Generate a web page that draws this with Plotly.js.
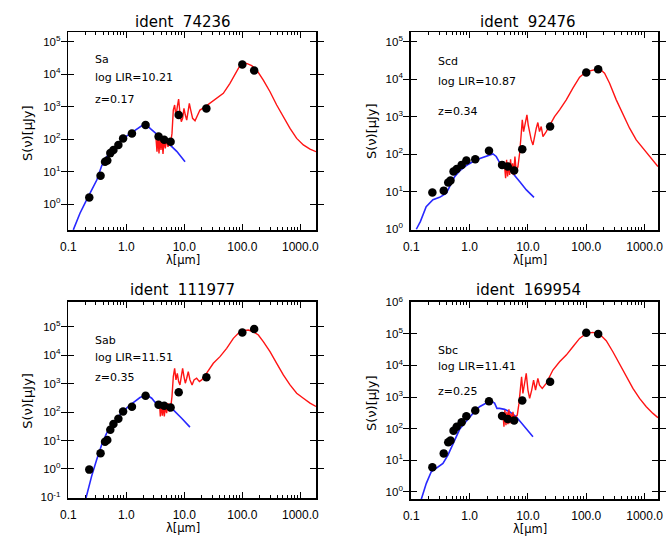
<!DOCTYPE html>
<html><head><meta charset="utf-8">
<script src="https://cdn.plot.ly/plotly-3.0.1.min.js"></script>
<style>html,body{margin:0;padding:0;background:#fff}#chart{width:666px;height:540px}</style>
</head><body><div id="chart"></div>
<script>
// ---- data (wavelength in micron, flux in microJy) ----
const bandLam = [0.23, 0.36, 0.43, 0.47, 0.53, 0.60, 0.73, 0.88, 1.25, 2.15, 3.6, 4.5, 5.8, 8.0, 24, 100, 160];

const p1Flux = [1.6, 7.4, 20, 22, 37, 46, 66, 105, 150, 270, 120, 96, 83, 550, 880, 20000, 13000];
const p2Flux = [9.5, 10.7, 17.6, 19.9, 34.5, 40.6, 52, 68, 73.5, 123, 52, 47, 36.7, 136, 547, 15000, 18500];
const p3Flux = [0.95, 3.6, 9, 10.5, 24, 38, 58, 105, 155, 375, 180, 166, 145, 500, 1680, 63000, 83000];
const p4Flux = [6, 16.4, 37, 42, 85, 115, 160, 245, 375, 730, 250, 200, 180, 780, 3050, 109000, 99000];

const p1StarLam = [0.122, 0.159, 0.213, 0.31, 0.376, 0.46, 0.60, 0.78, 1.01, 1.32, 1.7, 2.1, 2.6, 3.3, 5.0, 7.4, 10.3];
const p1StarFlux = [0.16, 0.52, 1.5, 5.5, 15, 29, 46, 83, 124, 170, 230, 300, 210, 145, 82, 42, 20];
const p2StarLam = [0.122, 0.143, 0.18, 0.235, 0.306, 0.40, 0.454, 0.553, 0.674, 0.877, 1.30, 1.93, 2.51, 2.86, 3.27, 4.25, 5.5, 7.2, 9.4, 12.7];
const p2StarFlux = [1.0, 1.6, 4.0, 6.1, 7.1, 9.1, 13.7, 25, 36, 50, 71, 90, 102, 87, 60, 55, 31, 18.7, 11.2, 7.1];
const p3StarLam = [0.202, 0.252, 0.308, 0.376, 0.458, 0.597, 0.778, 1.01, 1.32, 1.72, 2.24, 2.74, 3.12, 3.8, 4.95, 6.46, 9.0, 12.5];
const p3StarFlux = [0.096, 0.55, 2.1, 7.1, 18.3, 41, 80, 137, 217, 325, 403, 307, 223, 217, 180, 120, 61, 29.6];
const p4StarLam = [0.148, 0.181, 0.22, 0.268, 0.349, 0.425, 0.518, 0.674, 0.877, 1.14, 1.48, 1.93, 2.45, 2.68, 2.94, 3.27, 3.98, 4.85, 6.31, 8.2, 12.2];
const p4StarFlux = [0.57, 1.84, 4.3, 5.5, 7.9, 14.5, 34, 95, 170, 303, 493, 650, 700, 640, 436, 436, 406, 342, 238, 129, 55];

const p1DustLam = [3.25,3.38,3.52,3.66,3.80,3.96,4.12,4.29,4.46,4.70,4.95,5.23,5.51,5.81,6.13,6.46,6.81,7.18,7.57,7.98,8.41,8.87,9.35,9.86,10.4,11.0,11.6,12.2,12.9,13.9,15.3,16.7,18.6,22.1,27.7,36.1,47.0,61.2,74.8,88.8,100,119,145,177,230,300,391,509,664,865,1127,1468,1862];
const p1DustFlux = [105,41,119,36,113,46,105,35,94,52,98,58,83,77,150,786,1120,490,995,1714,620,344,435,885,551,387,698,1261,786,435,369,551,786,949,1261,1798,2564,5210,10090,16980,20500,21500,18240,13400,6590,2880,1120,490,214,105,66,49,41];
const p2DustLam = [3.98,4.14,4.31,4.48,4.66,4.85,5.04,5.25,5.46,5.68,5.98,6.31,6.74,7.20,7.69,8.0,8.43,9.0,9.61,10.1,10.7,11.4,12.2,13.0,13.9,14.8,15.8,16.9,18.1,20.6,23.5,28.6,34.9,45.4,59.0,76.9,100,130,169,206,251,327,425,553,719,936,1218,1694];
const p2DustFlux = [46.9,22.9,70.6,25.4,60,28.1,73.6,31.1,57.5,28.1,86.7,34.5,46.9,106,363,824,402,671,1120,606,363,241,177,328,494,699,402,547,296,402,570,1010,1521,2812,5754,11300,16000,17700,18900,14450,7820,2812,1120,494,241,144.5,86.7,46.9];
const p3DustLam = [3.71,3.86,4.01,4.18,4.35,4.52,4.70,4.95,5.23,5.51,5.81,6.13,6.46,6.81,7.18,7.57,7.98,8.41,8.87,9.35,9.86,10.4,11.0,11.7,12.5,13.6,14.7,16.3,18.2,19.9,21.8,24.3,31.6,41.2,53.7,70.0,85.3,104,127,155,189,230,300,391,509,664,865,1127,1468,1862];
const p3DustFlux = [235,70,206,74,180,70,157,92,206,105,137,352,1770,3467,1352,2313,1181,903,1770,3467,1770,1033,1545,2648,1352,903,1352,1545,1181,1352,1700,2400,5190,8890,17400,39000,58400,72400,76400,66800,51100,29800,13300,5190,2023,903,461,307,206,157];
const p4DustLam = [3.73,3.88,4.03,4.20,4.37,4.54,4.72,4.91,5.11,5.32,5.53,5.83,6.15,6.56,7.02,7.40,7.78,8.20,8.77,9.35,10.0,10.7,11.6,12.5,13.5,14.8,15.8,17.6,20.6,23.5,26.8,34.9,45.4,59.0,76.9,100,130,169,220,286,372,485,631,820,1069,1390,1694];
const p4DustFlux = [303,115,387,129,342,139,406,146,303,165,342,186,238,268,628,1663,4397,1303,2704,5610,1663,905,1663,3443,1663,3890,2393,1875,2704,4620,7150,13100,21300,39200,71900,103700,111600,98800,60800,27200,11600,4397,1875,905,493,303,221];

const panelTitles = ['ident\u00a0\u00a074236', 'ident\u00a0\u00a092476', 'ident\u00a0\u00a0111977', 'ident\u00a0\u00a0169954'];
const galTypes = ['Sa', 'Scd', 'Sab', 'Sbc'];
const lirLabels = ['log LIR=10.21', 'log LIR=10.87', 'log LIR=11.51', 'log LIR=11.41'];
const zLabels = ['z=0.17', 'z=0.34', 'z=0.35', 'z=0.25'];

const xTickVals = [0.1, 1, 10, 100, 1000];
const xTickText = ['0.1', '1.0', '10.0', '100.0', '1000.0'];
const xMinorVals = [0.2,0.3,0.4,0.5,0.6,0.7,0.8,0.9,2,3,4,5,6,7,8,9,20,30,40,50,60,70,80,90,200,300,400,500,600,700,800,900];
const yTickVals = [0.1, 1, 10, 100, 1000, 1e4, 1e5, 1e6];
const yTickText = ['10<sup>-1</sup>', '10<sup>0</sup>', '10<sup>1</sup>', '10<sup>2</sup>', '10<sup>3</sup>', '10<sup>4</sup>', '10<sup>5</sup>', '10<sup>6</sup>'];

// ---- layout geometry (pixels) ----
const W = 666, H = 540;
const FONT = 'Liberation Sans, Arial, sans-serif';
const FONT2 = 'DejaVu Sans, sans-serif';
const panels = [
  {flux:p1Flux, sl:p1StarLam, sf:p1StarFlux, dl:p1DustLam, df:p1DustFlux, box:[68.3,316,32.3,230], xr:[-1,3.27], yr:[-0.80,5.29],
   title:[183,21.7], xlab:[183,259.5], ylab:[28,133], txt:[93,59.3,77.3,100]},
  {flux:p2Flux, sl:p2StarLam, sf:p2StarFlux, dl:p2DustLam, df:p2DustFlux, box:[410.7,658,32.3,230], xr:[-1.01,3.23], yr:[-0.02,5.25],
   title:[528,21.7], xlab:[529.7,259.5], ylab:[371,131], txt:[435.7,61.7,81.7,111.7]},
  {flux:p3Flux, sl:p3StarLam, sf:p3StarFlux, dl:p3DustLam, df:p3DustFlux, box:[68.3,316,301.7,498], xr:[-1,3.27], yr:[-1.02,5.88],
   title:[182.7,290], xlab:[182.7,528], ylab:[28,400.7], txt:[93,340.7,357.3,377.3]},
  {flux:p4Flux, sl:p4StarLam, sf:p4StarFlux, dl:p4DustLam, df:p4DustFlux, box:[410.7,658,301.7,499.3], xr:[-1.01,3.23], yr:[-0.24,6.02],
   title:[528,290], xlab:[529.7,529.3], ylab:[371,403], txt:[435.7,350,366.7,391.7]}
];

const traces = [];
const layout = {
  width: W, height: H, margin:{l:0,r:0,t:0,b:0}, showlegend:false,
  paper_bgcolor:'#fff', plot_bgcolor:'#fff', font:{family:FONT, color:'#000'},
  annotations: []
};
panels.forEach((p, i) => {
  const n = i === 0 ? '' : String(i + 1);
  const xa = 'x' + n, ya = 'y' + n;
  const mn = String(i + 5), xm = 'x' + mn;
  traces.push({x:p.sl, y:p.sf, mode:'lines', line:{color:'#2828ff', width:1.6}, xaxis:xa, yaxis:ya, hoverinfo:'skip'});
  traces.push({x:p.dl, y:p.df, mode:'lines', line:{color:'#ff1414', width:1.4}, xaxis:xa, yaxis:ya, hoverinfo:'skip'});
  traces.push({x:bandLam, y:p.flux, mode:'markers', marker:{color:'#000', size:8.5}, xaxis:xa, yaxis:ya, hoverinfo:'skip'});
  // empty trace so the minor-tick overlay axis is drawn
  traces.push({x:[], y:[], mode:'lines', xaxis:xm, yaxis:ya, hoverinfo:'skip'});
  const common = {showgrid:false, zeroline:false, showline:true, linecolor:'#000', linewidth:1.5, mirror:'allticks',
    ticks:'inside', ticklen:6, tickwidth:1, tickcolor:'#000'};
  layout['xaxis' + n] = Object.assign({}, common, {
    type:'log', range:p.xr, domain:[p.box[0]/W, p.box[1]/W], anchor:ya,
    tickmode:'array', tickvals:xTickVals, ticktext:xTickText, tickfont:{size:12, family:FONT},
    ticklabelstandoff:5
  });
  layout['xaxis' + mn] = {
    type:'log', range:p.xr, overlaying:xa, anchor:ya, side:'bottom',
    showgrid:false, zeroline:false, showline:false, mirror:'ticks', showticklabels:false,
    tickmode:'array', tickvals:xMinorVals, ticks:'inside', ticklen:3, tickwidth:1, tickcolor:'#000'
  };
  layout['yaxis' + n] = Object.assign({}, common, {
    type:'log', range:p.yr, domain:[1 - p.box[3]/H, 1 - p.box[2]/H], anchor:xa,
    tickmode:'array', tickvals:yTickVals, ticktext:yTickText, tickfont:{size:11.5, family:FONT},
    ticklabelstandoff:4
  });
  const A = layout.annotations;
  A.push({xref:'paper', yref:'paper', x:p.title[0]/W, y:1 - p.title[1]/H, xanchor:'center', yanchor:'middle',
          text:panelTitles[i], showarrow:false, font:{size:15, family:FONT2}});
  A.push({xref:'paper', yref:'paper', x:p.xlab[0]/W, y:1 - p.xlab[1]/H, xanchor:'center', yanchor:'middle',
          text:'λ[μm]', showarrow:false, font:{size:11.5, family:FONT2}});
  A.push({xref:'paper', yref:'paper', x:p.ylab[0]/W, y:1 - p.ylab[1]/H, xanchor:'center', yanchor:'middle',
          text:'S(ν)[μJy]', textangle:-90, showarrow:false, font:{size:13, family:FONT2}});
  [galTypes[i], lirLabels[i], zLabels[i]].forEach((t, k) => {
    A.push({xref:'paper', yref:'paper', x:p.txt[0]/W, y:1 - p.txt[k+1]/H, xanchor:'left', yanchor:'middle',
            text:t, showarrow:false, font:{size:11, family:FONT2}});
  });
});
Plotly.newPlot('chart', traces, layout, {staticPlot:true, displayModeBar:false});
</script>
</body></html>
